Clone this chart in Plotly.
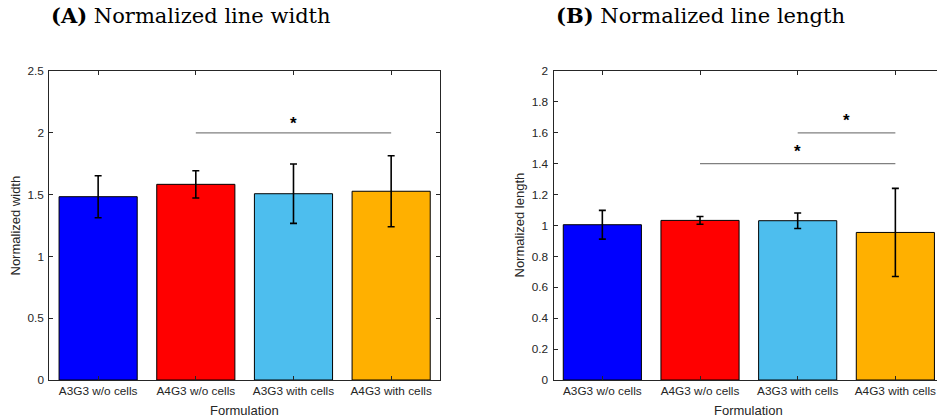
import plotly.graph_objects as go

# ---------------- data ----------------
categories = ["A3G3 w/o cells", "A4G3 w/o cells", "A3G3 with cells", "A4G3 with cells"]
bar_colors = ["#0000FF", "#FF0000", "#4DBEEE", "#FFB000"]

width_mean = [1.483, 1.583, 1.507, 1.527]
width_err = [0.170, 0.110, 0.240, 0.287]

length_mean = [1.005, 1.033, 1.031, 0.955]
length_err = [0.093, 0.025, 0.050, 0.285]

# significance brackets: (first category index, second category index, level)
width_sig = [(1, 3, 2.0)]
length_sig = [(2, 3, 1.6), (1, 3, 1.4)]
star_offset = 0.1  # star placed this far above its bracket (data units)

width_ticks = [0, 0.5, 1, 1.5, 2, 2.5]
length_ticks = [0, 0.2, 0.4, 0.6, 0.8, 1, 1.2, 1.4, 1.6, 1.8, 2]

title_a = "<b>(A)</b> Normalized line width"
title_b = "<b>(B)</b> Normalized line length"

# ---------------- figure ----------------
W, H = 937, 419
fig = go.Figure()

xpos = [1, 2, 3, 4]
axis_color = "#262626"
tick_font = dict(family="Liberation Sans, Arial, sans-serif", size=11.8, color=axis_color)
label_font = dict(family="Liberation Sans, Arial, sans-serif", size=13, color=axis_color)
title_font = dict(family="DejaVu Serif, serif", size=21, color="#000000")


def add_panel(means, errs, sigs, xa, ya):
    fig.add_trace(go.Bar(
        x=xpos, y=means, width=0.8,
        marker=dict(color=bar_colors, line=dict(color="#000000", width=1)),
        error_y=dict(type="data", array=errs, visible=True, color="#000000",
                     thickness=1.6, width=3.5),
        xaxis=xa, yaxis=ya, showlegend=False, hoverinfo="skip",
    ))
    for (i, j, lvl) in sigs:
        fig.add_trace(go.Scatter(
            x=[xpos[i], xpos[j]], y=[lvl, lvl], mode="lines",
            line=dict(color="#808080", width=1.3),
            xaxis=xa, yaxis=ya, showlegend=False, hoverinfo="skip",
        ))
        fig.add_annotation(
            x=(xpos[i] + xpos[j]) / 2, y=lvl + star_offset, xref=xa, yref=ya,
            text="<b>*</b>", showarrow=False, yshift=-3,
            font=dict(family="Liberation Sans, Arial, sans-serif", size=17, color="#000000"),
            yanchor="middle", xanchor="center",
        )


add_panel(width_mean, width_err, width_sig, "x", "y")
add_panel(length_mean, length_err, length_sig, "x2", "y2")

top_px, bot_px = 71, 380
ydom = [1 - bot_px / H, 1 - top_px / H]

l1, r1 = 49.3, 440.0
l2 = 553.5
cat_w = (r1 - l1) / 4.0
x2_end = 0.5 + (W - l2) / cat_w

common_x = dict(
    tickmode="array", tickvals=xpos, ticktext=categories,
    ticks="inside", ticklen=4, tickcolor=axis_color, tickwidth=1,
    showline=True, linecolor=axis_color, linewidth=1, mirror="ticks",
    showgrid=False, zeroline=False, tickfont=tick_font, fixedrange=True,
    automargin=False,
)
common_y = dict(
    ticks="inside", ticklen=4, tickcolor=axis_color, tickwidth=1,
    showline=True, linecolor=axis_color, linewidth=1,
    showgrid=False, zeroline=False, tickfont=tick_font, fixedrange=True,
    ticklabelstandoff=2, automargin=False,
)

fig.update_layout(
    width=W, height=H,
    margin=dict(l=0, r=0, t=0, b=0, autoexpand=False),
    paper_bgcolor="white", plot_bgcolor="white",
    xaxis=dict(domain=[l1 / W, r1 / W], range=[0.5, 4.5], anchor="y", **common_x),
    yaxis=dict(domain=ydom, range=[0, 2.5], tickvals=width_ticks, anchor="x",
               mirror="ticks", **common_y),
    xaxis2=dict(domain=[l2 / W, 1.0], range=[0.5, x2_end], anchor="y2", **common_x),
    yaxis2=dict(domain=ydom, range=[0, 2], tickvals=length_ticks, anchor="x2",
                mirror=False, **common_y),
    bargap=0.2,
)

# axis titles
fig.add_annotation(x=((l1 + r1) / 2) / W, y=1 - 410 / H, xref="paper", yref="paper",
                   text="Formulation", showarrow=False, font=label_font,
                   xanchor="center", yanchor="middle")
fig.add_annotation(x=((l2 + l2 + 4 * cat_w) / 2) / W, y=1 - 410 / H, xref="paper", yref="paper",
                   text="Formulation", showarrow=False, font=label_font,
                   xanchor="center", yanchor="middle")
fig.add_annotation(x=15 / W, y=(ydom[0] + ydom[1]) / 2, xref="paper", yref="paper",
                   text="Normalized width", showarrow=False, font=label_font,
                   textangle=-90, xanchor="center", yanchor="middle")
fig.add_annotation(x=519 / W, y=(ydom[0] + ydom[1]) / 2, xref="paper", yref="paper",
                   text="Normalized length", showarrow=False, font=label_font,
                   textangle=-90, xanchor="center", yanchor="middle")

# panel titles
fig.add_annotation(x=l1 / W, y=1 - 15.5 / H, xref="paper", yref="paper",
                   text=title_a, showarrow=False, font=title_font,
                   xanchor="left", yanchor="middle")
fig.add_annotation(x=l2 / W, y=1 - 15.5 / H, xref="paper", yref="paper",
                   text=title_b, showarrow=False, font=title_font,
                   xanchor="left", yanchor="middle")

fig.write_html("out.html")
